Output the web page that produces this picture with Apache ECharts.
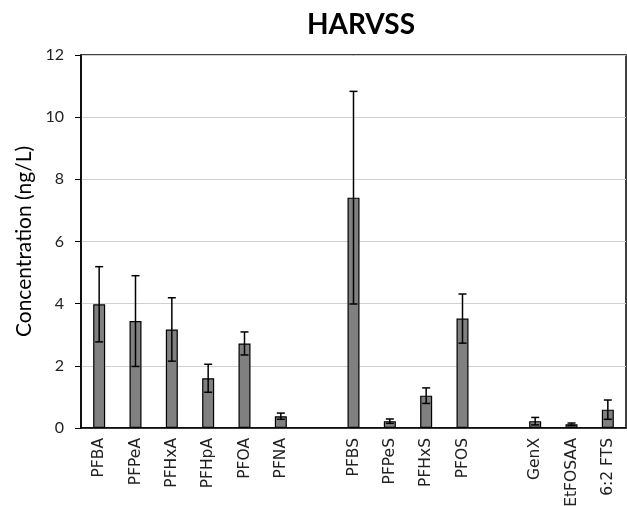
<!DOCTYPE html>
<html><head><meta charset="utf-8">
<script src="https://cdn.jsdelivr.net/npm/echarts@6/dist/echarts.min.js"></script>
<style>html,body{margin:0;padding:0;background:#fff}#c{width:627px;height:506px}</style>
</head><body><div id="c"></div>
<script>
const categories = ['PFBA','PFPeA','PFHxA','PFHpA','PFOA','PFNA','','PFBS','PFPeS','PFHxS','PFOS','','GenX','EtFOSAA','6:2 FTS'];
const means = [3.98, 3.44, 3.17, 1.60, 2.72, 0.38, null, 7.41, 0.22, 1.04, 3.52, null, 0.22, 0.12, 0.59];
const errs  = [1.21, 1.46, 1.02, 0.45, 0.37, 0.10, null, 3.42, 0.07, 0.25, 0.79, null, 0.12, 0.04, 0.31];
const yTicks = [0, 2, 4, 6, 8, 10, 12];

const FONT = 'Lato, "Open Sans", sans-serif';
const XFONT = '"DejaVu Sans", Verdana, sans-serif';
const chart = echarts.init(document.getElementById('c'));
const errData = means.map((m, i) => m == null ? [i, null, null] : [i, m - errs[i], m + errs[i]]);
chart.setOption({
  animation: false,
  title: { text: 'HARVSS', left: 356, textAlign: 'center', top: 6,
    textStyle: { fontFamily: FONT, fontWeight: 'bold', fontSize: 28, color: '#000' } },
  grid: { left: 81, right: 1, top: 55, bottom: 78, outerBoundsMode: 'none', containLabel: false,
    show: true, borderColor: '#000', borderWidth: 1.5, backgroundColor: 'transparent' },
  xAxis: {
    type: 'category', data: categories,
    axisLine: { lineStyle: { color: '#000', width: 1.5 } },
    axisTick: { alignWithLabel: true, length: 4, lineStyle: { color: '#000' } },
    axisLabel: { rotate: 90, interval: 0, margin: 10, fontFamily: XFONT, fontSize: 15.5, color: '#222' }
  },
  yAxis: {
    type: 'value', min: yTicks[0], max: yTicks[yTicks.length - 1], interval: 2,
    name: 'Concentration (ng/L)', nameLocation: 'middle', nameGap: 40,
    nameTextStyle: { fontFamily: FONT, fontSize: 21, color: '#000' },
    axisLine: { show: true, lineStyle: { color: '#000', width: 1.5 } },
    axisTick: { show: true, length: 6, lineStyle: { color: '#000' } },
    axisLabel: { margin: 17, fontFamily: FONT, fontSize: 16, color: '#222' },
    splitLine: { lineStyle: { color: '#d0d0d0', width: 1 } }
  },
  series: [
    { type: 'bar', data: means, barWidth: 12,
      itemStyle: { color: '#808080', borderColor: '#000', borderWidth: 1.2 } },
    { type: 'custom', data: errData, z: 5,
      renderItem: function (params, api) {
        if (api.value(1) == null || isNaN(api.value(1))) return null;
        const lo = api.coord([api.value(0), api.value(1)]);
        const hi = api.coord([api.value(0), api.value(2)]);
        const w = 4;
        const st = { stroke: '#000', lineWidth: 1.5 };
        return { type: 'group', children: [
          { type: 'line', shape: { x1: lo[0], y1: lo[1], x2: hi[0], y2: hi[1] }, style: st },
          { type: 'line', shape: { x1: lo[0] - w, y1: lo[1], x2: lo[0] + w, y2: lo[1] }, style: st },
          { type: 'line', shape: { x1: hi[0] - w, y1: hi[1], x2: hi[0] + w, y2: hi[1] }, style: st }
        ]};
      }
    }
  ]
});
</script></body></html>
